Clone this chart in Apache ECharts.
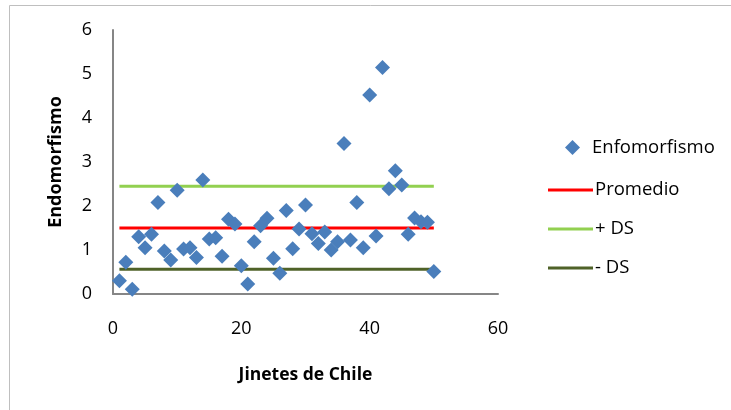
<!DOCTYPE html>
<html>
<head>
<meta charset="utf-8">
<script src="https://cdn.jsdelivr.net/npm/echarts@6/dist/echarts.min.js"></script>
<style>
  html, body { margin: 0; padding: 0; background: #fff; }
  #chart { width: 731px; height: 410px; }
</style>
</head>
<body>
<div id="chart"></div>
<script>
// Rider index (1..50) and endomorph rating per rider
const riders = [];
for (let i = 1; i <= 50; i++) riders.push(i);
const endomorfismo = [
  0.30, 0.72, 0.11, 1.30, 1.05, 1.36, 2.08, 0.98, 0.77, 2.36,
  1.02, 1.05, 0.83, 2.59, 1.25, 1.28, 0.86, 1.70, 1.59, 0.64,
  0.23, 1.19, 1.55, 1.72, 0.81, 0.47, 1.90, 1.03, 1.48, 2.02,
  1.37, 1.15, 1.41, 1.00, 1.19, 3.42, 1.23, 2.08, 1.05, 4.52,
  1.32, 5.15, 2.39, 2.80, 2.48, 1.36, 1.73, 1.64, 1.63, 0.51
];
// Reference levels: mean and mean ± one standard deviation
const promedio = 1.50;
const masDS = 2.45;
const menosDS = 0.56;
const lineSpan = [1, 50];

const FONT = '"Open Sans", sans-serif';

const levelLine = (name, value, color) => ({
  name: name,
  type: 'line',
  data: lineSpan.map(x => [x, value]),
  showSymbol: false,
  symbol: 'none',
  lineStyle: { color: color, width: 3 },
  itemStyle: { color: color },
  z: 1,
  animation: false
});

const chart = echarts.init(document.getElementById('chart'), null, { renderer: 'canvas' });
chart.setOption({
  backgroundColor: '#ffffff',
  animation: false,
  textStyle: { fontFamily: FONT },
  graphic: [{
    type: 'rect',
    shape: { x: 9.5, y: 5.5, width: 740, height: 420 },
    style: { fill: 'none', stroke: '#bfbfbf', lineWidth: 1 },
    silent: true
  }],
  grid: { left: 113, top: 30, width: 385, height: 264 },
  xAxis: {
    type: 'value', min: 0, max: 60, interval: 20,
    name: 'Jinetes de Chile', nameLocation: 'middle', nameGap: 72,
    nameTextStyle: { fontFamily: FONT, fontWeight: 'bold', fontSize: 17.5, color: '#000' },
    axisLine: { show: true, lineStyle: { color: '#868686', width: 2 } },
    axisTick: { show: false },
    splitLine: { show: false },
    axisLabel: { margin: 26, fontSize: 18, color: '#000', fontFamily: FONT }
  },
  yAxis: {
    type: 'value', min: 0, max: 6, interval: 1,
    name: 'Endomorfismo', nameLocation: 'middle', nameGap: 48,
    nameTextStyle: { fontFamily: FONT, fontWeight: 'bold', fontSize: 18, color: '#000' },
    axisLine: { show: true, lineStyle: { color: '#868686', width: 2 } },
    axisTick: { show: false },
    splitLine: { show: false },
    axisLabel: { margin: 21, fontSize: 18, color: '#000', fontFamily: FONT }
  },
  legend: [{
    data: [{ name: 'Enfomorfismo', icon: 'diamond' }],
    left: 560, top: 133,
    itemWidth: 15, itemHeight: 15,
    textStyle: { fontSize: 18.5, color: '#000', fontFamily: FONT, padding: [0, 0, 0, 7] },
    selectedMode: false
  }, {
    data: [
      { name: 'Promedio', icon: 'rect' },
      { name: '+ DS', icon: 'rect' },
      { name: '- DS', icon: 'rect' }
    ],
    orient: 'vertical',
    left: 543, top: 174,
    itemWidth: 45, itemHeight: 3, itemGap: 17,
    textStyle: { fontSize: 18.5, color: '#000', fontFamily: FONT, lineHeight: 22, padding: [0, 0, 0, -3] },
    selectedMode: false
  }],
  series: [
    {
      name: 'Enfomorfismo',
      type: 'scatter',
      symbol: 'diamond',
      symbolSize: 15,
      data: riders.map((x, i) => [x, endomorfismo[i]]),
      itemStyle: { color: '#4a7ebb', opacity: 1 },
      z: 3
    },
    levelLine('Promedio', promedio, '#ff0000'),
    levelLine('+ DS', masDS, '#92d050'),
    levelLine('- DS', menosDS, '#4f6228')
  ]
});
</script>
</body>
</html>
